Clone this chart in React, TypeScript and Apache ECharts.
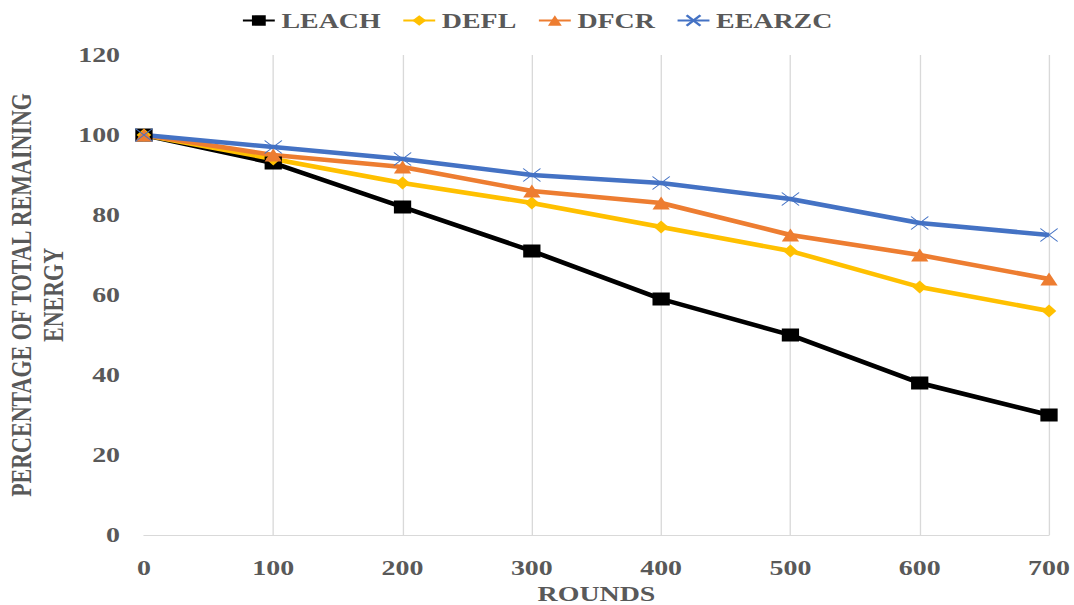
import React, { useEffect, useRef } from "react";
import * as echarts from "echarts";

// Rounds on the horizontal axis
const rounds = ["0", "100", "200", "300", "400", "500", "600", "700"];

// Percentage of total remaining energy per protocol
const leach = [100, 93, 82, 71, 59, 50, 38, 30];
const defl = [100, 94, 88, 83, 77, 71, 62, 56];
const dfcr = [100, 95, 92, 86, 83, 75, 70, 64];
const eearzc = [100, 97, 94, 90, 88, 84, 78, 75];

const FONT = '"Liberation Serif", "Times New Roman", serif';
const TEXT = "#595959";
const GRID = "#D9D9D9";

// The chart is laid out on a narrower canvas and widened horizontally.
const OUT_W = 1074;
const OUT_H = 605;
const INNER_W = 808;
const STRETCH = OUT_W / INNER_W;

const CROSS = "path://M0,0L10,10M10,0L0,10";

export default function App() {
  const ref = useRef<HTMLDivElement>(null);

  useEffect(() => {
    if (!ref.current) return;
    const chart = echarts.init(ref.current, undefined, { renderer: "svg" });

    const line = (
      name: string,
      data: number[],
      color: string,
      symbol: string,
      symbolSize: number | number[],
      extra: any = {}
    ) => ({
      name,
      type: "line",
      data,
      symbol,
      symbolSize,
      showSymbol: true,
      lineStyle: { color, width: 4.5 },
      itemStyle: { color, ...extra },
      emphasis: { disabled: true },
    });

    chart.setOption({
      animation: false,
      backgroundColor: "#ffffff",
      textStyle: { fontFamily: FONT },
      legend: {
        top: 5,
        left: "center",
        itemWidth: 24,
        itemHeight: 13,
        itemGap: 16,
        textStyle: {
          color: TEXT,
          fontFamily: FONT,
          fontWeight: "bold",
          fontSize: 21,
        },
        data: ["LEACH", "DEFL", "DFCR", "EEARZC"],
      },
      grid: {
        left: 108.3,
        right: 18.8,
        top: 55,
        bottom: 70,
        outerBoundsMode: "none",
      },
      xAxis: {
        type: "category",
        data: rounds,
        boundaryGap: false,
        name: "ROUNDS",
        nameLocation: "middle",
        nameGap: 48,
        nameMoveOverlap: false,
        nameTextStyle: {
          color: TEXT,
          fontFamily: FONT,
          fontWeight: "bold",
          fontSize: 21,
          lineHeight: 21,
        },
        axisLine: { show: true, lineStyle: { color: GRID, width: 1 } },
        axisTick: { show: false },
        axisLabel: {
          color: TEXT,
          fontFamily: FONT,
          fontWeight: "bold",
          fontSize: 21,
          margin: 22,
        },
        splitLine: {
          show: true,
          showMinLine: false,
          lineStyle: { color: GRID, width: 1 },
        },
      },
      yAxis: {
        type: "value",
        min: 0,
        max: 120,
        interval: 20,
        name: "PERCENTAGE OF TOTAL REMAINING\nENERGY",
        nameLocation: "middle",
        nameRotate: 90,
        nameGap: 56,
        nameMoveOverlap: false,
        nameTextStyle: {
          color: TEXT,
          fontFamily: FONT,
          fontWeight: "bold",
          fontSize: 22,
          lineHeight: 24,
          align: "center",
        },
        axisLine: { show: false },
        axisTick: { show: false },
        splitLine: { show: false },
        axisLabel: {
          color: TEXT,
          fontFamily: FONT,
          fontWeight: "bold",
          fontSize: 21,
          margin: 18,
        },
      },
      series: [
        line("LEACH", leach, "#000000", "rect", 13),
        line("DEFL", defl, "#FFC000", "diamond", [11, 13]),
        line("DFCR", dfcr, "#ED7D31", "triangle", [13, 13]),
        line("EEARZC", eearzc, "#4472C4", CROSS, 13, {
          borderColor: "#4472C4",
          borderWidth: 1,
        }),
      ],
    });

    return () => chart.dispose();
  }, []);

  return (
    <div
      style={{
        position: "fixed",
        left: 0,
        top: 0,
        width: OUT_W,
        height: OUT_H,
        overflow: "hidden",
        background: "#ffffff",
      }}
    >
      <div
        ref={ref}
        style={{
          width: INNER_W,
          height: OUT_H,
          transform: `scaleX(${STRETCH})`,
          transformOrigin: "0 0",
        }}
      />
    </div>
  );
}
